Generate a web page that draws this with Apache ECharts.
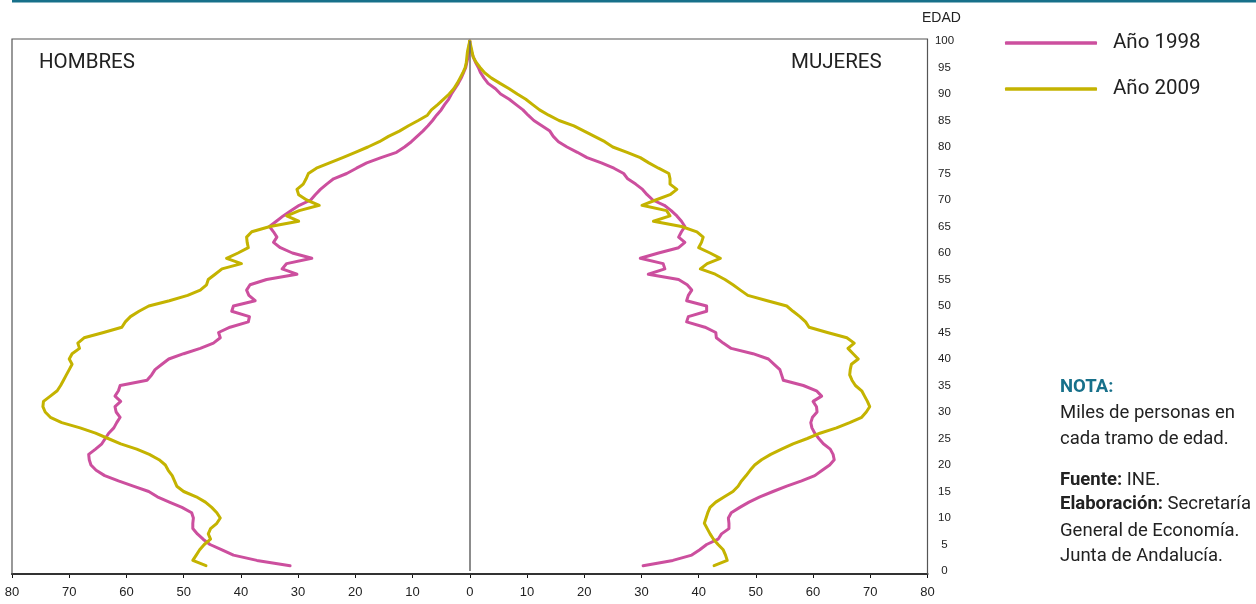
<!DOCTYPE html>
<html>
<head>
<meta charset="utf-8">
<script src="https://cdn.jsdelivr.net/npm/echarts@6/dist/echarts.min.js"></script>
<style>
html,body{margin:0;padding:0;background:#fff;}
#chart{width:1256px;height:604px;}
</style>
</head>
<body>
<div id="chart"></div>
<script>
// Ages (y axis)
const ages = [1,2,3,4,5,6,7,8,9,10,11,12,13,14,15,16,17,18,19,20,21,22,23,24,25,26,27,28,29,30,31,32,33,34,35,36,37,38,39,40,41,42,43,44,45,46,47,48,49,50,51,52,53,54,55,56,57,58,59,60,61,62,63,64,65,66,67,68,69,70,71,72,73,74,75,76,77,78,79,80,81,82,83,84,85,86,87,88,89,90,91,92,93,94,95,96,97,98,99,100];

// Thousands of people per age (HOMBRES = men, MUJERES = women)
const hombres1998 = [31.4,37.2,41.3,43.3,45.4,46.6,47.6,48.4,48.4,48.3,48.6,50.3,52.5,54.6,56.1,58.8,61.4,63.8,65.3,66.2,66.5,66.6,65.4,64.3,63.7,63.1,62.2,61.7,61.1,61.8,62.0,61.0,62.0,61.4,61.1,56.4,55.6,55.0,53.8,52.6,50.0,47.1,44.8,43.6,43.9,41.9,38.7,38.5,41.6,41.3,37.5,38.6,39.0,38.4,35.5,30.2,32.8,32.0,27.6,31.0,33.1,34.3,33.7,34.3,35.0,33.8,32.6,31.2,29.8,27.8,27.0,26.1,25.0,23.8,21.5,19.8,18.0,15.5,12.8,11.4,10.2,9.2,8.2,7.3,6.5,5.8,5.0,4.4,3.7,3.2,2.6,2.0,1.5,1.1,0.7,0.5,0.3,0.2,0.1,0.0];
const hombres2009 = [46.1,48.4,47.8,47.2,46.4,45.3,45.7,45.3,44.2,43.6,44.2,45.1,46.2,47.8,50.0,51.2,51.6,52.0,52.7,53.2,54.3,56.0,58.2,61.0,63.2,65.4,68.1,71.3,73.3,74.2,74.6,74.5,73.3,72.1,71.5,71.0,70.5,70.0,69.5,70.0,69.5,68.2,68.5,67.4,64.0,60.8,60.2,59.3,57.8,56.1,52.5,49.3,47.1,46.0,45.7,44.5,43.3,39.9,42.5,40.5,38.7,38.9,39.0,38.1,34.9,29.9,32.0,29.8,26.3,28.5,29.9,30.2,29.1,28.6,28.2,26.8,24.5,22.2,20.0,17.8,15.8,14.2,12.3,10.7,9.0,7.4,6.7,5.6,4.6,3.6,2.8,2.2,1.7,1.2,0.8,0.6,0.5,0.4,0.2,0.0];
const mujeres1998 = [30.3,35.5,38.8,40.2,41.4,43.4,44.0,45.3,45.3,45.2,45.7,47.2,48.8,50.7,53.0,55.4,58.0,60.3,61.6,62.9,63.7,63.5,63.0,61.8,61.0,60.3,59.8,59.6,59.9,60.7,60.6,60.0,61.5,60.6,58.3,54.8,54.5,54.2,53.2,52.2,49.5,45.7,44.3,43.1,43.0,41.1,37.9,38.2,41.4,41.4,37.9,38.2,38.8,38.0,36.5,31.2,34.1,33.8,29.8,33.0,36.5,37.6,36.5,37.0,37.6,37.0,36.2,35.2,34.0,32.0,31.0,30.2,29.0,27.6,26.9,25.2,23.0,20.5,18.8,17.0,15.5,14.6,14.0,12.6,11.2,10.2,9.3,8.1,6.9,5.4,4.5,3.2,2.5,1.9,1.5,1.0,0.6,0.3,0.1,0.0];
const mujeres2009 = [42.7,45.0,44.7,44.3,43.4,42.6,42.0,41.5,41.0,41.3,41.6,42.0,43.0,44.5,46.0,46.9,47.5,48.3,49.0,49.8,51.0,52.6,54.5,56.5,59.0,61.2,64.1,66.4,68.5,69.3,69.9,69.5,69.0,68.5,67.4,66.8,66.4,66.5,66.7,67.9,67.0,66.1,67.2,65.9,62.5,59.3,58.7,57.7,56.5,55.4,52.0,48.6,47.3,46.0,44.6,42.9,40.3,41.5,43.8,42.0,40.0,40.5,40.8,39.7,37.0,32.1,35.0,34.4,30.1,32.5,35.0,36.2,35.0,35.0,34.8,33.0,31.3,29.8,27.5,25.0,23.6,21.8,20.0,18.2,15.6,13.8,12.2,11.0,9.8,8.3,6.9,5.3,3.8,2.6,1.8,1.1,0.6,0.4,0.2,0.0];

const xTicks = [80,70,60,50,40,30,20,10,0,10,20,30,40,50,60,70,80];
const ageTicks = [0,5,10,15,20,25,30,35,40,45,50,55,60,65,70,75,80,85,90,95,100];

const C1998 = '#cc4f9e';
const C2009 = '#c4b300';

function left(vals){ return vals.map((v,i)=>[-v, ages[i]]); }
function right(vals){ return vals.map((v,i)=>[v, ages[i]]); }

const chart = echarts.init(document.getElementById('chart'), null, {renderer:'canvas'});

const lineBase = (name, color, data, extra) => Object.assign({
  name: name, type: 'line', data: data, symbol: 'none', showSymbol: false,
  lineStyle: {color: color, width: 3, join: 'round', cap: 'round'},
  itemStyle: {color: color}, silent: true, animation: false
}, extra || {});

chart.setOption({
  animation: false,
  textStyle: {fontFamily: 'Liberation Sans, Arial, sans-serif'},
  grid: {left: 12, right: 328.5, top: 41, bottom: 33, containLabel: false},
  legend: {
    data: [{name: 'Año 1998', icon: 'roundRect'}, {name: 'Año 2009', icon: 'roundRect'}],
    orient: 'vertical', left: 1005, top: 31, padding: 0,
    itemWidth: 92, itemHeight: 3.5, itemGap: 22,
    textStyle: {fontFamily: 'Roboto, sans-serif', fontSize: 20.5, color: '#222', lineHeight: 24, padding: [0,0,0,11]},
    selectedMode: false
  },
  xAxis: {
    type: 'value', min: -80, max: 80, interval: 10, offset: 3,
    axisLine: {show: true, onZero: false, lineStyle: {color: '#111', width: 2}},
    axisTick: {show: true, length: 4, lineStyle: {color: '#111', width: 1}},
    axisLabel: {fontSize: 13, color: '#222', margin: 12,
      formatter: function(v){ return String(xTicks[Math.round((v + 80) / 10)]); }},
    splitLine: {show: false}
  },
  yAxis: {
    type: 'value', position: 'right', min: 0, max: 100, interval: 5,
    axisLine: {show: false}, axisTick: {show: false},
    axisLabel: {fontSize: 11.5, color: '#222', align: 'center', margin: 17,
      formatter: function(v){ return String(ageTicks[Math.round(v / 5)]); }},
    splitLine: {show: false}
  },
  graphic: [
    {type: 'rect', left: 12, top: 0, shape: {width: 1244, height: 2.5}, style: {fill: '#17708a'}, silent: true},
    {type: 'rect', shape: {x: 12, y: 39, width: 915.5, height: 535}, style: {fill: 'none', stroke: '#555', lineWidth: 1.2}, silent: true, z: 10},
    {type: 'text', x: 39, y: 63, style: {text: 'HOMBRES', font: '20.5px Roboto', fill: '#222', textVerticalAlign: 'middle'}},
    {type: 'text', x: 791, y: 63, style: {text: 'MUJERES', font: '20.5px Roboto', fill: '#222', textVerticalAlign: 'middle'}},
    {type: 'text', x: 922, y: 18, style: {text: 'EDAD', font: '14px Liberation Sans', fill: '#222', textVerticalAlign: 'middle'}},
    {type: 'text', x: 1060, y: 387, style: {text: 'NOTA:', font: 'bold 18.5px Roboto', fill: '#17708a', textVerticalAlign: 'middle'}},
    {type: 'text', x: 1060, y: 413, style: {text: 'Miles de personas en', font: '18.5px Roboto', fill: '#222', textVerticalAlign: 'middle'}},
    {type: 'text', x: 1060, y: 439.5, style: {text: 'cada tramo de edad.', font: '18.5px Roboto', fill: '#222', textVerticalAlign: 'middle'}},
    {type: 'text', x: 1060, y: 480, style: {text: '{b|Fuente:} INE.', font: '18.5px Roboto', fill: '#222', textVerticalAlign: 'middle',
      rich: {b: {fontWeight: 'bold', fontSize: 18.5, fontFamily: 'Roboto', fill: '#222'}}}},
    {type: 'text', x: 1060, y: 504, style: {text: '{b|Elaboración:} Secretaría', font: '18.5px Roboto', fill: '#222', textVerticalAlign: 'middle',
      rich: {b: {fontWeight: 'bold', fontSize: 18.5, fontFamily: 'Roboto', fill: '#222'}}}},
    {type: 'text', x: 1060, y: 531, style: {text: 'General de Economía.', font: '18.5px Roboto', fill: '#222', textVerticalAlign: 'middle'}},
    {type: 'text', x: 1060, y: 556.5, style: {text: 'Junta de Andalucía.', font: '18.5px Roboto', fill: '#222', textVerticalAlign: 'middle'}}
  ],
  series: [
    lineBase('Año 1998', C1998, left(hombres1998), {
      markLine: {silent: true, symbol: 'none', label: {show: false},
        lineStyle: {color: '#666', width: 1.5, type: 'solid'}, data: [{xAxis: 0}]}
    }),
    lineBase('Año 1998', C1998, right(mujeres1998)),
    lineBase('Año 2009', C2009, left(hombres2009)),
    lineBase('Año 2009', C2009, right(mujeres2009))
  ]
});
</script>
</body>
</html>
